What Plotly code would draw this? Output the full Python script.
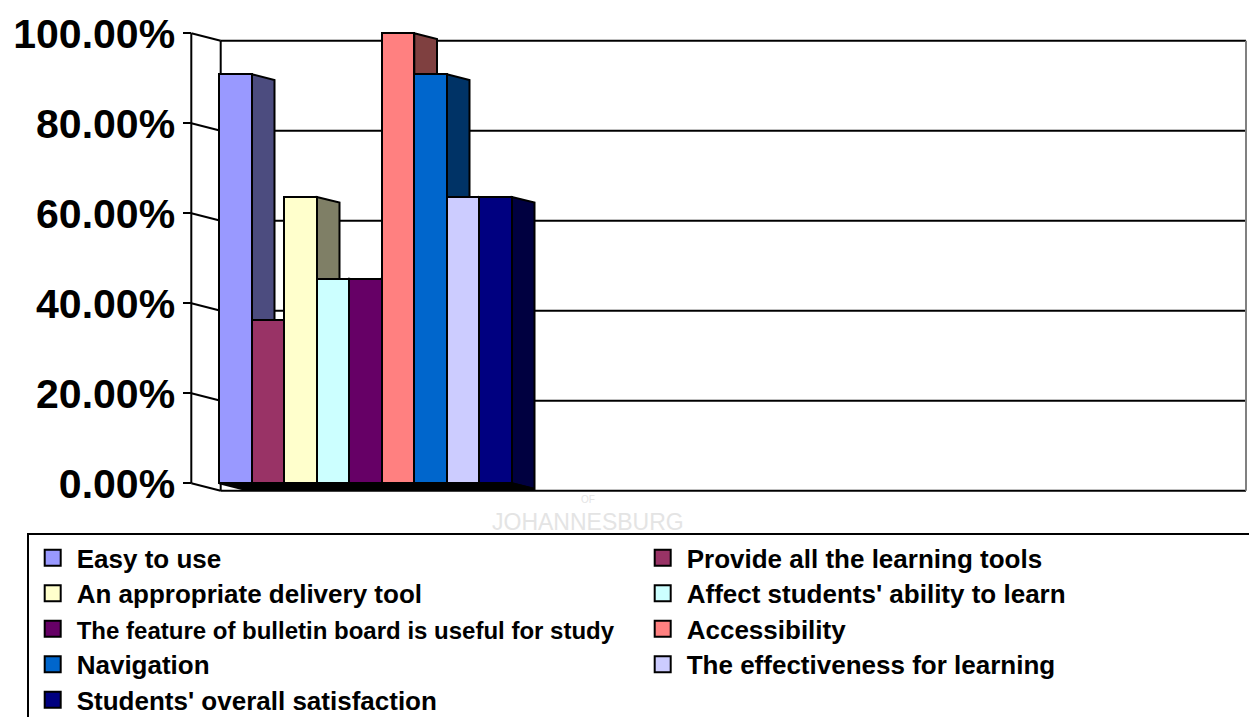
import plotly.graph_objects as go

# ---------------- data ----------------
series_names = [
    "Easy to use",
    "Provide all the learning tools",
    "An appropriate delivery tool",
    "Affect students' ability to learn",
    "The feature of bulletin board is useful for study",
    "Accessibility",
    "Navigation",
    "The effectiveness for learning",
    "Students' overall satisfaction",
]
series_values = [0.9091, 0.3636, 0.6364, 0.4545, 0.4545, 1.0, 0.9091, 0.6364, 0.6364]
series_colors = ["#9999FF", "#993366", "#FFFFCC", "#CCFFFF", "#660066",
                 "#FF8080", "#0066CC", "#CCCCFF", "#000080"]
tick_values = [0.0, 0.2, 0.4, 0.6, 0.8, 1.0]
tick_labels = ["0.00%", "20.00%", "40.00%", "60.00%", "80.00%", "100.00%"]

# ---------------- layout geometry ----------------
W, H = 1249, 717
BAR_LEFT_PX = 219.3
BAR_W_PX = 32.5
Y0_PX = 483.3          # pixel of value 0 on the front plane
PX_PER_UNIT_Y = 450.0  # pixels for value 1.0
AXIS_PX = 191.3        # front vertical axis
WALL_RIGHT_PX = 1246.0
DOM_TOP_PX, DOM_BOT_PX = 20.0, 500.0

x_range = [(0 - BAR_LEFT_PX) / BAR_W_PX, (W - BAR_LEFT_PX) / BAR_W_PX]
y_range = [(Y0_PX - DOM_BOT_PX) / PX_PER_UNIT_Y, (Y0_PX - DOM_TOP_PX) / PX_PER_UNIT_Y]
y_domain = [1 - DOM_BOT_PX / H, 1 - DOM_TOP_PX / H]

axis_u = (AXIS_PX - BAR_LEFT_PX) / BAR_W_PX
wall_dx = 29.4 / BAR_W_PX
wall_dy = 7.4 / PX_PER_UNIT_Y
wall_left = axis_u + wall_dx
wall_right = (WALL_RIGHT_PX - BAR_LEFT_PX) / BAR_W_PX
bar_dx = 0.772 * wall_dx
bar_dy = 0.772 * wall_dy


def darker(hex_color):
    r, g, b = (int(hex_color[i:i + 2], 16) for i in (1, 3, 5))
    return "#%02X%02X%02X" % (r // 2, g // 2, b // 2)


shapes = []
LINE = dict(color="black", width=2)
# back wall gridlines (including top / bottom edges)
for v in tick_values:
    shapes.append(dict(type="line", xref="x", yref="y", layer="below",
                       x0=wall_left, x1=wall_right, y0=v - wall_dy, y1=v - wall_dy, line=LINE))
    # side-wall diagonal tick continuation
    shapes.append(dict(type="line", xref="x", yref="y", layer="below",
                       x0=axis_u, x1=wall_left, y0=v, y1=v - wall_dy, line=LINE))
# wall left edge and right edge
shapes.append(dict(type="line", xref="x", yref="y", layer="below",
                   x0=wall_left, x1=wall_left, y0=-wall_dy, y1=1 - wall_dy, line=LINE))
shapes.append(dict(type="line", xref="x", yref="y", layer="below",
                   x0=wall_right, x1=wall_right, y0=-wall_dy, y1=1 - wall_dy,
                   line=dict(color="#808080", width=2)))
# front vertical axis
shapes.append(dict(type="line", xref="x", yref="y", layer="below",
                   x0=axis_u, x1=axis_u, y0=0, y1=1, line=LINE))

n = len(series_values)
# side faces of the bars
for i, (v, c) in enumerate(zip(series_values, series_colors)):
    xr = i + 1
    shapes.append(dict(type="path", xref="x", yref="y", layer="below",
                       path=f"M {xr},{v} L {xr + bar_dx},{v - bar_dy} L {xr + bar_dx},{-bar_dy} L {xr},{0} Z",
                       fillcolor=darker(c), line=dict(color="black", width=2)))
# bottom faces of the bars (seen from below)
shapes.append(dict(type="path", xref="x", yref="y", layer="below",
                   path=f"M {0},{0} L {n},{0} L {n + bar_dx},{-bar_dy} L {bar_dx},{-bar_dy} Z",
                   fillcolor="black", line=dict(color="black", width=2)))

fig = go.Figure()
# front faces of the bars
for i, (name, v, c) in enumerate(zip(series_names, series_values, series_colors)):
    fig.add_trace(go.Bar(x=[i + 0.5], y=[v], width=[1.0], name=name, marker_color=c,
                         marker_line=dict(color="black", width=2), showlegend=False,
                         hovertemplate=f"{name}: %{{y:.2%}}<extra></extra>"))

# legend entries
for i, (name, c) in enumerate(zip(series_names, series_colors)):
    size = 24 if len(name) > 40 else 26
    label = f'<span style="font-size:{size}px">{name}</span>'
    fig.add_trace(go.Scatter(x=[None], y=[None], mode="markers", name=label,
                             marker=dict(symbol="square", size=16, color=c,
                                         line=dict(color="black", width=2)),
                             showlegend=True))

fig.add_annotation(text="JOHANNESBURG", xref="paper", yref="paper",
                   x=588 / W, y=1 - 507 / H, yanchor="top", showarrow=False,
                   font=dict(family="Liberation Sans, Arial", size=23, color="#E4E4E4"))
fig.add_annotation(text="OF", xref="paper", yref="paper",
                   x=588 / W, y=1 - 507 / H, yanchor="bottom", showarrow=False,
                   font=dict(family="Liberation Sans, Arial", size=10, color="#E4E4E4"))

fig.update_layout(
    width=W, height=H,
    margin=dict(l=0, r=0, t=0, b=0, autoexpand=False),
    paper_bgcolor="white", plot_bgcolor="rgba(0,0,0,0)",
    barmode="overlay", bargap=0,
    shapes=shapes,
    xaxis=dict(domain=[0, 1], range=x_range, visible=False, fixedrange=True),
    yaxis=dict(domain=y_domain, range=y_range, anchor="free", position=AXIS_PX / W,
               tickvals=tick_values, ticktext=tick_labels, ticks="outside",
               ticklen=8, tickwidth=2, tickcolor="black", showgrid=False,
               zeroline=False, showline=False, fixedrange=True, automargin=False,
               tickfont=dict(family="Liberation Sans, Arial", size=41, color="black",
                             weight="bold")),
    legend=dict(orientation="h", x=26.7 / W, y=1 - 533 / H, xanchor="left", yanchor="top",
                bordercolor="black", borderwidth=2, bgcolor="white",
                entrywidth=557, entrywidthmode="pixels", itemwidth=38,
                font=dict(family="Liberation Sans, Arial", size=25, color="black",
                          weight="bold")),
    showlegend=True,
)

fig.write_html("out.html")
